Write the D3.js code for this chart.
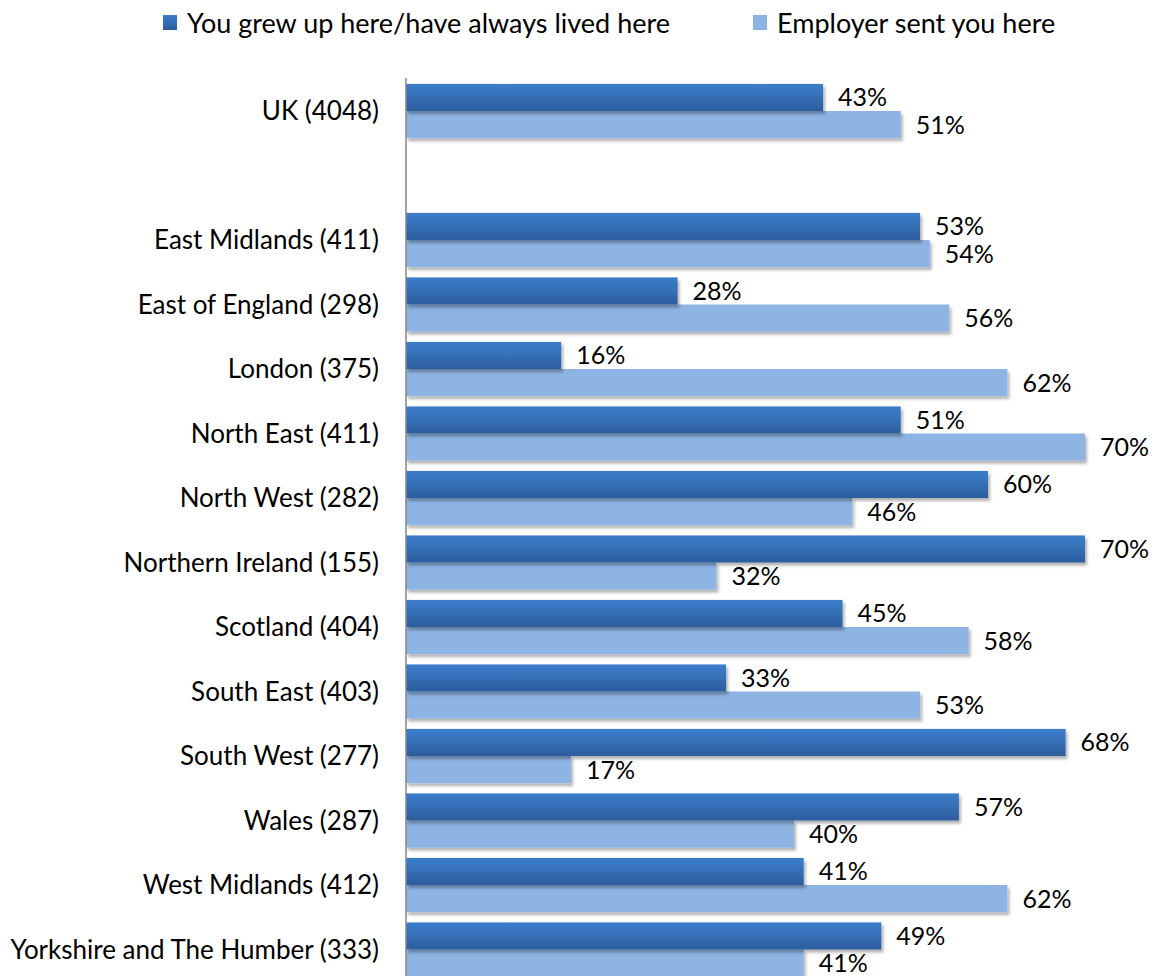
<!DOCTYPE html>
<html>
<head>
<meta charset="utf-8">
<script src="https://cdn.jsdelivr.net/npm/d3@7"></script>
<style>
  html, body { margin: 0; padding: 0; background: #fff; }
  svg text { font-family: Lato, "Open Sans", sans-serif; fill: #000; }
</style>
</head>
<body>
<svg id="chart" width="1156" height="976"></svg>
<script>
// Regions (respondent counts in brackets); the empty entry is a spacer row under UK
const categories = [
  "UK (4048)", "",
  "East Midlands (411)", "East of England (298)", "London (375)", "North East (411)",
  "North West (282)", "Northern Ireland (155)", "Scotland (404)", "South East (403)",
  "South West (277)", "Wales (287)", "West Midlands (412)", "Yorkshire and The Humber (333)"
];
const grewUp   = [43, null, 53, 28, 16, 51, 60, 70, 45, 33, 68, 57, 41, 49];
const employer = [51, null, 54, 56, 62, 70, 46, 32, 58, 53, 17, 40, 62, 41];
const seriesNames = ["You grew up here/have always lived here", "Employer sent you here"];

const svg = d3.select("#chart");
const x0 = 406, x70 = 1085;

const x = d3.scaleLinear().domain([0, 70]).range([x0, x70]);
const y = d3.scaleBand().domain(d3.range(categories.length))
  .range([78.75, 78.75 + 64.5 * categories.length]).paddingInner(0.16).paddingOuter(0.08);

const defs = svg.append("defs");
const grad = defs.append("linearGradient").attr("id", "darkGrad")
  .attr("x1", 0).attr("y1", 0).attr("x2", 0).attr("y2", 1);
grad.append("stop").attr("offset", "0%").attr("stop-color", "#3B7DCB");
grad.append("stop").attr("offset", "45%").attr("stop-color", "#3670B8");
grad.append("stop").attr("offset", "100%").attr("stop-color", "#2C5C9C");

const shadow = defs.append("filter").attr("id", "shadow")
  .attr("x", "-5%").attr("y", "-30%").attr("width", "115%").attr("height", "180%");
shadow.append("feDropShadow").attr("dx", 2).attr("dy", 3).attr("stdDeviation", 1.8)
  .attr("flood-color", "#000").attr("flood-opacity", 0.3);

const rows = categories.map((c, i) => ({ i, c, a: grewUp[i], b: employer[i] }))
  .filter(d => d.a != null);

const half = y.bandwidth() / 2;
const series = [
  { key: "a", fill: "url(#darkGrad)", off: 0 },
  { key: "b", fill: "#8EB4E3", off: half }
];

// Light bars first so the dark bar above can sit on top of its shadow
[series[1], series[0]].forEach(s => {
  svg.append("g").selectAll("rect").data(rows).join("rect")
    .attr("x", x(0))
    .attr("y", d => y(d.i) + s.off)
    .attr("width", d => x(d[s.key]) - x(0))
    .attr("height", half)
    .attr("fill", s.fill)
    .attr("filter", "url(#shadow)");
});

// Value labels
series.forEach(s => {
  svg.append("g").selectAll("text").data(rows).join("text")
    .attr("x", d => x(d[s.key]) + 15)
    .attr("y", d => y(d.i) + s.off + half / 2)
    .attr("dy", "0.36em")
    .attr("font-size", 25)
    .text(d => d[s.key] + "%");
});

// Category axis
const yAxis = d3.axisLeft(y).tickSize(0).tickPadding(27).tickFormat(i => categories[i]);
const gAxis = svg.append("g").attr("transform", `translate(${x0},0)`).call(yAxis);
gAxis.select(".domain").remove();
gAxis.selectAll("text").attr("font-size", 26).attr("dy", "0.36em");
svg.append("line")
  .attr("x1", x0).attr("x2", x0).attr("y1", 78).attr("y2", 976)
  .attr("stroke", "#868686").attr("stroke-width", 1.5);

// Legend
const legend = [
  { name: seriesNames[0], fill: "url(#darkGrad)", x: 163 },
  { name: seriesNames[1], fill: "#8EB4E3", x: 753 }
];
const lg = svg.append("g").selectAll("g").data(legend).join("g")
  .attr("transform", d => `translate(${d.x},15)`);
lg.append("rect").attr("width", 14).attr("height", 15).attr("fill", d => d.fill);
lg.append("text").attr("x", 24).attr("y", 8).attr("dy", "0.36em")
  .attr("font-size", 27).text(d => d.name);
</script>
</body>
</html>
